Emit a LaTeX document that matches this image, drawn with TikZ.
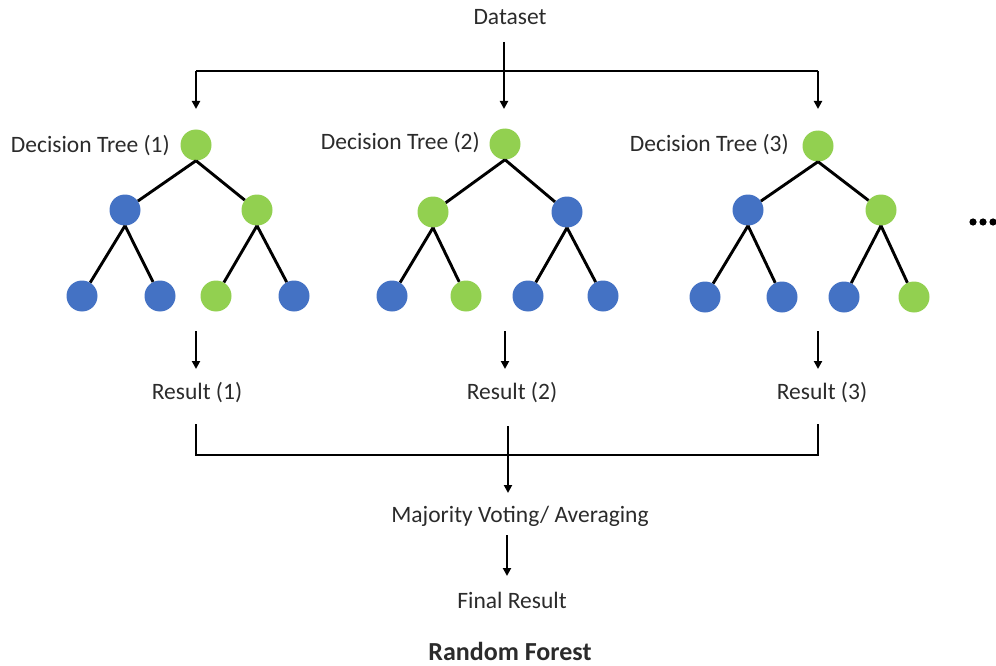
\documentclass[tikz,border=0pt]{standalone}
\usepackage{fontspec}
\setmainfont{Carlito}
\usetikzlibrary{arrows.meta}
\definecolor{treegreen}{HTML}{92D050}
\definecolor{treeblue}{HTML}{4472C4}
\definecolor{txt}{HTML}{2B2B2B}
\begin{document}
\begin{tikzpicture}[x=1pt,y=-1pt,
  lbl/.style={font=\fontsize{23.5}{26}\selectfont, text=txt, inner sep=0pt, anchor=center},
  gnode/.style={circle, fill=treegreen, minimum size=31pt, inner sep=0pt},
  bnode/.style={circle, fill=treeblue, minimum size=31pt, inner sep=0pt},
  edge/.style={line width=2.9pt},
  conn/.style={line width=2.4pt},
  arr/.style={conn, -{Triangle[length=8pt,width=8pt]}}]
\useasboundingbox (0,0) rectangle (996,666);

% Dataset and distribution
\node[lbl] (ds) at (510,17) {Dataset};
\coordinate (dstop) at (504,42);
\coordinate (jl) at (196,71);
\coordinate (jr) at (818,71);
\coordinate (in1) at (196,109);
\coordinate (in2) at (504,109);
\coordinate (in3) at (818,109);

% Tree 1
\node[gnode] (t1r) at (196,145) {};
\node[bnode] (t1a) at (125,210) {};
\node[gnode] (t1b) at (257,210) {};
\node[bnode] (t1l1) at (82,296) {};
\node[bnode] (t1l2) at (160,296) {};
\node[gnode] (t1l3) at (216,296) {};
\node[bnode] (t1l4) at (294,296) {};
\node[lbl, anchor=east] (t1n) at (170,146) {Decision Tree (1)};

% Tree 2
\node[gnode] (t2r) at (505,144) {};
\node[gnode] (t2a) at (433,212) {};
\node[bnode] (t2b) at (567,212) {};
\node[bnode] (t2l1) at (392,296) {};
\node[gnode] (t2l2) at (466,296) {};
\node[bnode] (t2l3) at (528,296) {};
\node[bnode] (t2l4) at (603,296) {};
\node[lbl, anchor=east] (t2n) at (480,143) {Decision Tree (2)};

% Tree 3
\node[gnode] (t3r) at (818,146) {};
\node[bnode] (t3a) at (748,210) {};
\node[gnode] (t3b) at (881,210) {};
\node[bnode] (t3l1) at (705,297) {};
\node[bnode] (t3l2) at (782,297) {};
\node[bnode] (t3l3) at (844,297) {};
\node[gnode] (t3l4) at (914,297) {};
\node[lbl, anchor=east] (t3n) at (789,145) {Decision Tree (3)};

% tree edges
\foreach \t in {1,2,3}{
  \draw[edge] (t\t r.south) -- (t\t a);
  \draw[edge] (t\t r.south) -- (t\t b);
  \draw[edge] (t\t a.south) -- (t\t l1);
  \draw[edge] (t\t a.south) -- (t\t l2);
  \draw[edge] (t\t b.south) -- (t\t l3);
  \draw[edge] (t\t b.south) -- (t\t l4);
}

% top connectors
\draw[conn] (jl) -- (jr);
\draw[arr] (dstop) -- (in2);
\draw[arr] (jl) -- (in1);
\draw[arr] (jr) -- (in3);

% dots
\fill[black] (973,222) circle (3.6);
\fill[black] (983,222) circle (3.6);
\fill[black] (993,222) circle (3.6);

% results
\node[lbl] (r1) at (197,393) {Result (1)};
\node[lbl] (r2) at (512,393) {Result (2)};
\node[lbl] (r3) at (822,393) {Result (3)};
\coordinate (a1) at (196,331);
\coordinate (a2) at (505,331);
\coordinate (a3) at (818,331);
\coordinate (e1) at (196,369);
\coordinate (e2) at (505,369);
\coordinate (e3) at (818,369);
\draw[arr] (a1) -- (e1);
\draw[arr] (a2) -- (e2);
\draw[arr] (a3) -- (e3);

% bracket
\coordinate (b1) at (196,424);
\coordinate (b3) at (818,424);
\coordinate (bl) at (196,455);
\coordinate (br) at (818,455);
\coordinate (b2) at (508,426);
\coordinate (b2e) at (508,493);
\draw[conn] (b1) -- (bl) -- (br) -- (b3);

\node[lbl] (mv) at (520,516) {Majority Voting/ Averaging};
\draw[arr] (b2) -- (b2e);

\node[lbl] (fr) at (512,600) {Final Result};
\coordinate (m1) at (507,535);
\coordinate (m2) at (507,576);
\draw[arr] (m1) -- (m2);

\node[lbl, font=\fontsize{26}{28}\selectfont\bfseries] (rf) at (510,651) {Random Forest};
\end{tikzpicture}
\end{document}
